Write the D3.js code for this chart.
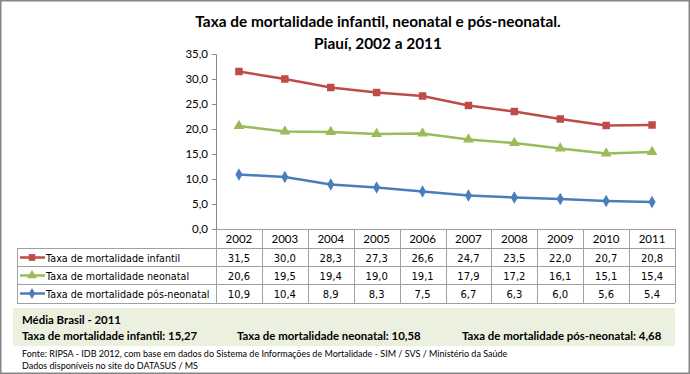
<!DOCTYPE html>
<html>
<head>
<meta charset="utf-8">
<script src="https://cdn.jsdelivr.net/npm/d3@7"></script>
<style>
  html, body { margin: 0; padding: 0; background: #fff; }
  svg { display: block; }
</style>
</head>
<body>
<div id="chart"></div>
<script>
// Data
const years = ['2002', '2003', '2004', '2005', '2006', '2007', '2008', '2009', '2010', '2011'];
const infantil = [31.5, 30.0, 28.3, 27.3, 26.6, 24.7, 23.5, 22.0, 20.7, 20.8];
const neonatal = [20.6, 19.5, 19.4, 19.0, 19.1, 17.9, 17.2, 16.1, 15.1, 15.4];
const posNeonatal = [10.9, 10.4, 8.9, 8.3, 7.5, 6.7, 6.3, 6.0, 5.6, 5.4];
const yTicks = [0, 5, 10, 15, 20, 25, 30, 35];
const seriesNames = ['Taxa de mortalidade infantil', 'Taxa de mortalidade neonatal', 'Taxa de mortalidade pós-neonatal'];
const mediaBrasil = ['15,27', '10,58', '4,68'];

const width = 690;
const height = 374;

const ptBR = d3.formatLocale({ decimal: ',', thousands: '.', grouping: [3], currency: ['R$', ''] });
const fmt = ptBR.format('.1f');

const series = [
  { name: seriesNames[0], values: infantil, color: '#be4b48', symbol: d3.symbolSquare, size: 56 },
  { name: seriesNames[1], values: neonatal, color: '#9bbb59', symbol: d3.symbolTriangle, size: 50 },
  { name: seriesNames[2], values: posNeonatal, color: '#4a7ebb', symbol: d3.symbolDiamond, size: 44 }
];

const svg = d3.select('#chart')
  .append('svg')
    .attr('width', width)
    .attr('height', height);

// outer frame
svg.append('rect')
  .attr('x', 0.75).attr('y', 0.75)
  .attr('width', width - 1.5).attr('height', height - 1.5)
  .attr('fill', '#fff')
  .attr('stroke', '#868686')
  .attr('stroke-width', 1.5);

// Title
const title = svg.append('text')
  .attr('text-anchor', 'middle')
  .attr('font-family', 'Lato, "Open Sans", sans-serif')
  .attr('font-weight', 'bold')
  .attr('font-size', 15.4)
  .attr('fill', '#000');
title.append('tspan').attr('x', 378).attr('y', 27).text('Taxa de mortalidade infantil, neonatal e pós-neonatal.');
title.append('tspan').attr('x', 378).attr('y', 49).text('Piauí, 2002 a 2011');

// Scales
const x = d3.scaleBand()
  .domain(years)
  .range([216, 675]);

const y = d3.scaleLinear()
  .domain([0, 35])
  .range([229, 54]);

// Y axis
const yAxis = svg.append('g')
  .attr('transform', 'translate(216,0)')
  .call(d3.axisLeft(y).tickValues(yTicks).tickFormat(fmt).tickSize(4).tickPadding(4));
yAxis.select('.domain').attr('stroke', '#868686');
yAxis.selectAll('.tick line').attr('stroke', '#868686');
yAxis.selectAll('.tick text')
  .attr('font-family', 'Lato, sans-serif')
  .attr('font-size', 11.5)
  .attr('fill', '#000');

// Table grid
const gridColor = '#a0a0a0';
const rowTops = [248, 266, 284, 303];
const grid = svg.append('g').attr('stroke', gridColor).attr('stroke-width', 1).attr('shape-rendering', 'crispEdges');
grid.append('line').attr('x1', 216).attr('x2', 675).attr('y1', 229.5).attr('y2', 229.5);
rowTops.forEach(ry => {
  grid.append('line').attr('x1', 17).attr('x2', 675).attr('y1', ry + 0.5).attr('y2', ry + 0.5);
});
grid.append('line').attr('x1', 17.5).attr('x2', 17.5).attr('y1', 248).attr('y2', 303);
years.forEach(yr => {
  grid.append('line').attr('x1', Math.round(x(yr)) + 0.5).attr('x2', Math.round(x(yr)) + 0.5).attr('y1', 229).attr('y2', 303);
});
grid.append('line').attr('x1', 675.5).attr('x2', 675.5).attr('y1', 229).attr('y2', 303);

// Year labels
svg.append('g')
  .selectAll('text')
  .data(years)
  .join('text')
    .attr('x', d => x(d) + x.bandwidth() / 2)
    .attr('y', 243)
    .attr('text-anchor', 'middle')
    .attr('font-family', 'Lato, sans-serif')
    .attr('font-size', 11.5)
    .attr('fill', '#000')
    .text(d => d);

// Lines and markers
const line = d3.line()
  .x((d, i) => x(years[i]) + x.bandwidth() / 2)
  .y(d => y(d));

series.forEach((s, si) => {
  svg.append('path')
    .datum(s.values)
    .attr('fill', 'none')
    .attr('stroke', s.color)
    .attr('stroke-width', 2.5)
    .attr('d', line);

  svg.append('g')
    .selectAll('path')
    .data(s.values)
    .join('path')
      .attr('transform', (d, i) => 'translate(' + (x(years[i]) + x.bandwidth() / 2) + ',' + y(d) + ')')
      .attr('d', d3.symbol().type(s.symbol).size(s.size))
      .attr('fill', s.color);

  // table row
  const rowY = rowTops[si];
  const rowMid = rowY + 9;
  const leg = svg.append('g');
  leg.append('line')
    .attr('x1', 20).attr('x2', 45)
    .attr('y1', rowMid + 0.5).attr('y2', rowMid + 0.5)
    .attr('stroke', s.color).attr('stroke-width', 2.5);
  leg.append('path')
    .attr('transform', 'translate(32,' + (rowMid + 0.5) + ')')
    .attr('d', d3.symbol().type(s.symbol).size(s.size * 0.8))
    .attr('fill', s.color);
  leg.append('text')
    .attr('x', 46).attr('y', rowMid + 4.5)
    .attr('font-family', '"DejaVu Sans", Verdana, sans-serif')
    .attr('font-size', 9.6)
    .attr('fill', '#000')
    .text(s.name);

  svg.append('g')
    .selectAll('text')
    .data(s.values)
    .join('text')
      .attr('x', (d, i) => x(years[i]) + x.bandwidth() / 2)
      .attr('y', rowMid + 4.5)
      .attr('text-anchor', 'middle')
      .attr('font-family', '"DejaVu Sans", Verdana, sans-serif')
      .attr('font-size', 10)
      .attr('fill', '#000')
      .text(d => fmt(d));
});

// Média Brasil box
svg.append('rect')
  .attr('x', 13).attr('y', 308)
  .attr('width', 662).attr('height', 38)
  .attr('fill', '#ebf1de');

const boxFont = 'Lato, "Open Sans", sans-serif';
svg.append('text')
  .attr('x', 22).attr('y', 324)
  .attr('font-family', boxFont).attr('font-weight', 'bold').attr('font-size', 11.4)
  .text('Média Brasil  - 2011');

const mediaX = [22, 237, 462];
svg.append('g')
  .selectAll('text')
  .data(seriesNames)
  .join('text')
    .attr('x', (d, i) => mediaX[i])
    .attr('y', 340)
    .attr('font-family', boxFont).attr('font-weight', 'bold').attr('font-size', 11.4)
    .text((d, i) => d + ':  ' + mediaBrasil[i]);

// Source
const src = svg.append('g')
  .attr('font-family', 'Lato, "Open Sans", sans-serif')
  .attr('font-size', 9)
  .attr('fill', '#000');
src.append('text').attr('x', 22).attr('y', 357)
  .text('Fonte: RIPSA - IDB 2012,  com base em dados do Sistema de Informações de Mortalidade - SIM / SVS / Ministério da Saúde');
src.append('text').attr('x', 22).attr('y', 369)
  .text('Dados disponíveis no site do DATASUS /  MS');
</script>
</body>
</html>
